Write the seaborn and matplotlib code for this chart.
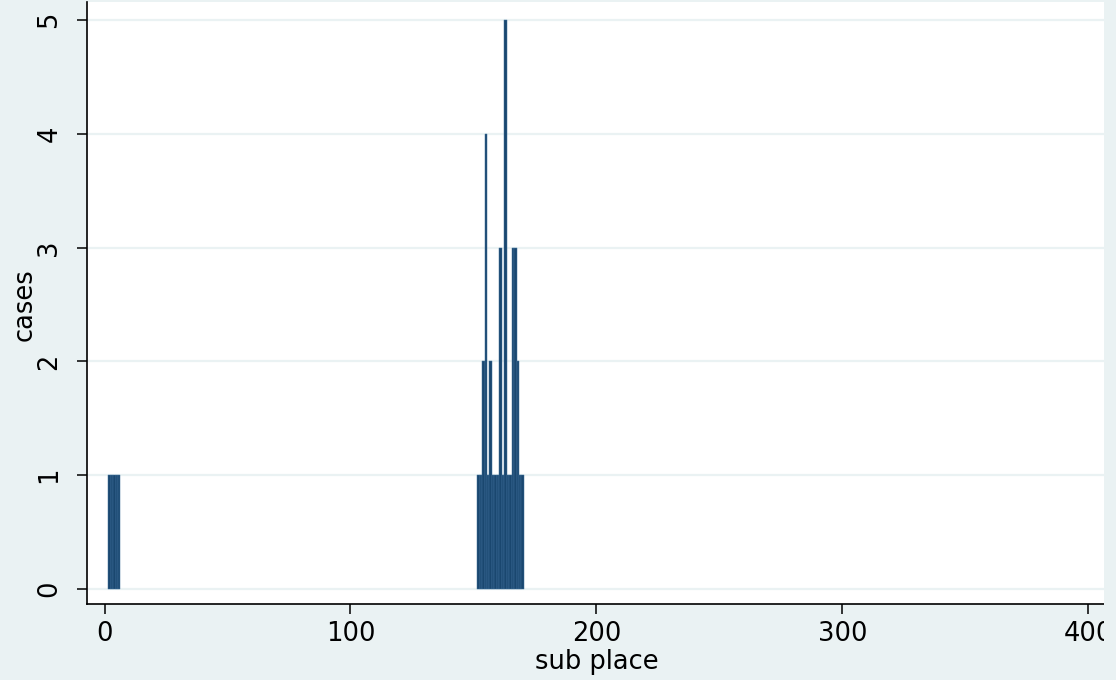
import matplotlib
matplotlib.use("Agg")
import matplotlib.pyplot as plt
from matplotlib.patches import Rectangle
import seaborn as sns
import pandas as pd

# cases by sub place
sub_place = [2, 3, 4, 5, 6,
             152, 153, 154, 155, 156, 157, 158, 159, 160, 161,
             162, 163, 164, 165, 166, 167, 168, 169, 170]
cases = [1, 1, 1, 1, 1,
         1, 1, 2, 4, 1, 2, 1, 1, 1, 3,
         1, 5, 1, 1, 3, 3, 2, 1, 1]
x_ticks = [0, 100, 200, 300, 400]
y_ticks = [0, 1, 2, 3, 4, 5]

df = pd.DataFrame({"sub_place": sub_place, "cases": cases})

bg = "#eaf2f3"
sns.set_style("white")
plt.rcParams["font.family"] = ["DejaVu Sans"]

fig = plt.figure(figsize=(11.16, 6.8), dpi=100, facecolor=bg)
ax = fig.add_axes([86.7 / 1116, 76 / 680, (1116 - 86.7) / 1116, 602 / 680])
ax.set_facecolor("white")

sns.barplot(data=df, x="sub_place", y="cases", native_scale=True, width=1,
            color="#1a476f", saturation=1, errorbar=None,
            edgecolor="#3f6f9a", linewidth=0.35, ax=ax)

ax.set_xlim(-7.24, 411.2)
ax.set_ylim(-0.132, 5.158)
ax.set_xticks(x_ticks)
ax.set_xticklabels([str(v) for v in x_ticks])
ax.set_yticks(y_ticks)
ax.set_yticklabels([str(v) for v in y_ticks])
ax.yaxis.grid(True, color=bg, linewidth=1.6)
ax.set_axisbelow(True)

for s in ["top", "right"]:
    ax.spines[s].set_visible(False)
for s in ["left", "bottom"]:
    ax.spines[s].set_color("black")
    ax.spines[s].set_linewidth(1.2)

ax.tick_params(axis="both", direction="out", length=7.5, width=1.1,
               labelsize=18.5, color="black", labelcolor="black",
               left=True, bottom=True)
ax.tick_params(axis="x", pad=5)
ax.tick_params(axis="y", pad=10)
for lab in ax.get_yticklabels():
    lab.set_rotation(90)
    lab.set_va("center")

ax.set_xlabel("sub place", fontsize=18.5, color="black")
ax.set_ylabel("cases", fontsize=18.5, color="black")
ax.xaxis.set_label_coords((597 - 86.7) / (1116 - 86.7), -0.075)
ax.yaxis.set_label_coords(-0.048, (604 - 305) / 602)

# the original image is clipped on the right
fig.patches.append(Rectangle((1104 / 1116, 0), 12 / 1116, 1, transform=fig.transFigure,
                             facecolor=bg, edgecolor="none", zorder=10))

fig.savefig("out.png", dpi=100, facecolor=bg)
